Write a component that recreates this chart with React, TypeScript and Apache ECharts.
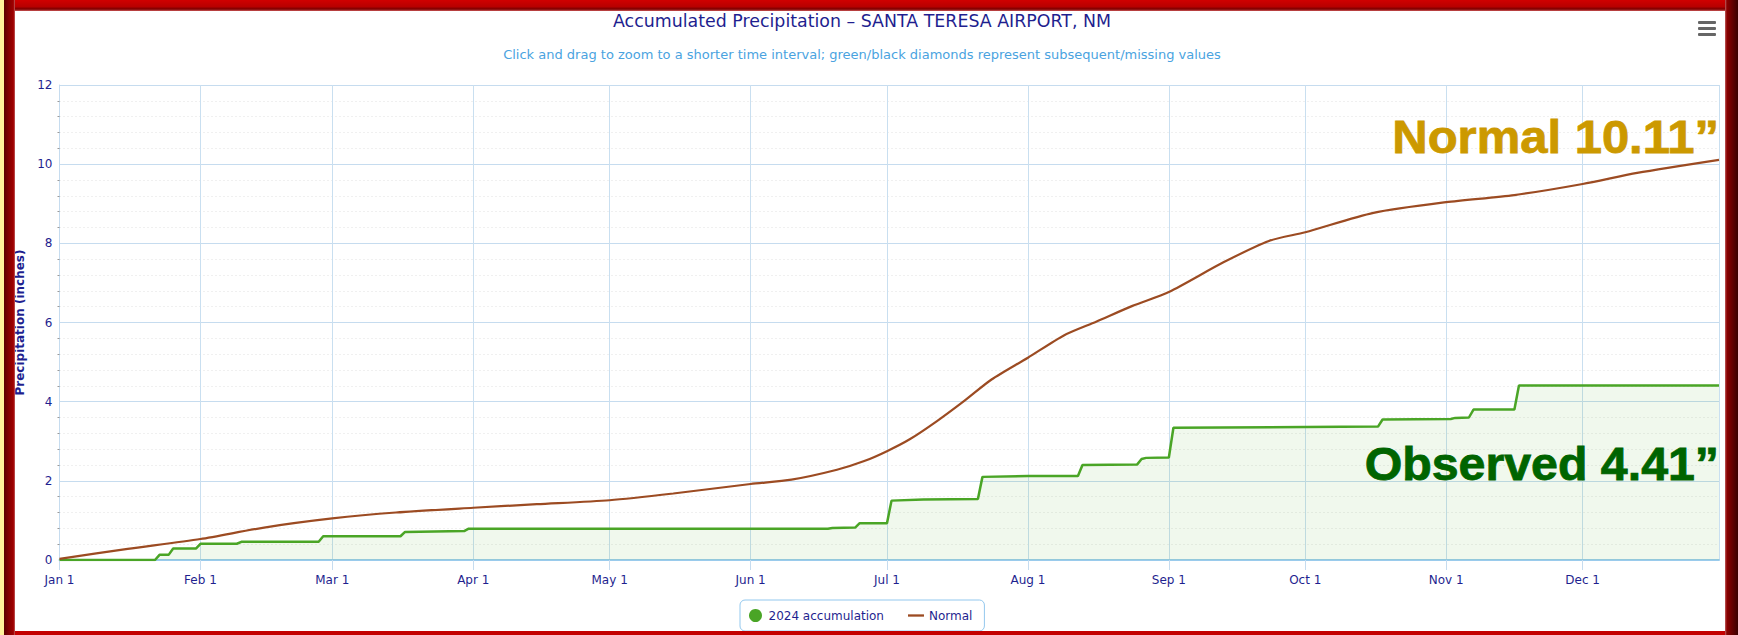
import React, { useEffect, useRef } from 'react';
import * as echarts from 'echarts';

const titleText = 'Accumulated Precipitation – SANTA TERESA AIRPORT, NM';
const subtitleText =
  'Click and drag to zoom to a shorter time interval; green/black diamonds represent subsequent/missing values';
const normalLabel = 'Normal 10.11”';
const observedLabel = 'Observed 4.41”';
const yAxisName = 'Precipitation (inches)';
const monthNames = ['Jan', 'Feb', 'Mar', 'Apr', 'May', 'Jun', 'Jul', 'Aug', 'Sep', 'Oct', 'Nov', 'Dec'];

const xStart = '2024-01-01';
const xEnd = '2024-12-31';

const observedDates = [
  '2024-01-01', '2024-01-22', '2024-01-23', '2024-01-25', '2024-01-26', '2024-01-31', '2024-02-01',
  '2024-02-09', '2024-02-10', '2024-02-27', '2024-02-28', '2024-03-16', '2024-03-17', '2024-03-30',
  '2024-03-31', '2024-06-18', '2024-06-19', '2024-06-24', '2024-06-25', '2024-07-01', '2024-07-02',
  '2024-07-09', '2024-07-21', '2024-07-22', '2024-08-01', '2024-08-12', '2024-08-13', '2024-08-25',
  '2024-08-26', '2024-08-27', '2024-09-01', '2024-09-02', '2024-10-01', '2024-10-17', '2024-10-18',
  '2024-11-02', '2024-11-03', '2024-11-06', '2024-11-07', '2024-11-16', '2024-11-17', '2024-12-31',
];
const observedValues = [
  0, 0, 0.13, 0.13, 0.29, 0.29, 0.41,
  0.41, 0.46, 0.46, 0.6, 0.6, 0.71, 0.73,
  0.79, 0.79, 0.81, 0.82, 0.93, 0.93, 1.5,
  1.53, 1.54, 2.1, 2.12, 2.12, 2.4, 2.41,
  2.55, 2.58, 2.59, 3.34, 3.36, 3.37, 3.55,
  3.56, 3.59, 3.6, 3.8, 3.8, 4.41, 4.41,
];

const normalDates = [
  '2024-01-01', '2024-01-16', '2024-02-01', '2024-02-15', '2024-03-01', '2024-03-15', '2024-04-01',
  '2024-04-15', '2024-05-01', '2024-05-15', '2024-06-01', '2024-06-10', '2024-06-20', '2024-06-26',
  '2024-07-01', '2024-07-06', '2024-07-12', '2024-07-18', '2024-07-24', '2024-08-01', '2024-08-09',
  '2024-08-16', '2024-08-24', '2024-09-01', '2024-09-13', '2024-09-23', '2024-10-01', '2024-10-16',
  '2024-11-01', '2024-11-16', '2024-12-01', '2024-12-13', '2024-12-31',
];
const normalValues = [
  0.03, 0.28, 0.53, 0.82, 1.05, 1.2, 1.32,
  1.41, 1.51, 1.68, 1.92, 2.03, 2.28, 2.5,
  2.75, 3.05, 3.51, 4.02, 4.56, 5.11, 5.68,
  6.02, 6.42, 6.77, 7.52, 8.06, 8.28, 8.77,
  9.04, 9.22, 9.5, 9.78, 10.11,
];

const DAY = 86400000;
function toTime(s: string): number {
  const [y, m, d] = s.split('-').map(Number);
  return new Date(y, m - 1, d).getTime();
}

export default function App() {
  const ref = useRef<HTMLDivElement>(null);

  useEffect(() => {
    if (!ref.current) return;
    const chart = echarts.init(ref.current, null, { renderer: 'svg' });
    const navy = '#1f1f8f';
    const gridBlue = '#c6dcef';

    chart.setOption({
      animation: false,
      backgroundColor: '#ffffff',
      textStyle: { fontFamily: 'DejaVu Sans' },
      title: [
        {
          text: titleText,
          left: 862,
          top: 12,
          textAlign: 'center',
          padding: 0,
          textStyle: { color: navy, fontSize: 17.4, fontWeight: 'normal', fontFamily: 'DejaVu Sans' },
        },
        {
          text: subtitleText,
          left: 862,
          top: 48,
          textAlign: 'center',
          padding: 0,
          textStyle: { color: '#4aa3df', fontSize: 13, fontWeight: 'normal', fontFamily: 'DejaVu Sans' },
        },
      ],
      grid: { left: 59.5, right: 19, top: 85, bottom: 75 },
      legend: {
        left: 740,
        top: 600,
        orient: 'horizontal',
        padding: [9, 12, 9, 9],
        itemGap: 24,
        itemWidth: 16,
        itemHeight: 13,
        borderColor: '#93c8ee',
        borderWidth: 1,
        borderRadius: 5,
        backgroundColor: '#ffffff',
        selectedMode: false,
        textStyle: { color: navy, fontSize: 12, fontFamily: 'DejaVu Sans' },
        data: [
          { name: '2024 accumulation', icon: 'circle' },
          { name: 'Normal', icon: 'path://M0,0M18,13M0,5.2H18V7.8H0Z' },
        ],
      },
      xAxis: {
        type: 'time',
        min: toTime(xStart),
        max: toTime(xEnd),
        splitNumber: 12,
        minInterval: 28 * DAY,
        maxInterval: 31 * DAY,
        axisLine: { show: true, onZero: false, lineStyle: { color: '#9acbec', width: 2 } },
        axisTick: { show: true, length: 10, lineStyle: { color: gridBlue } },
        axisLabel: {
          color: navy,
          fontSize: 12,
          margin: 14,
          fontFamily: 'DejaVu Sans',
          formatter: (v: number) => {
            const d = new Date(v);
            return monthNames[d.getMonth()] + ' ' + d.getDate();
          },
        },
        splitLine: { show: true, lineStyle: { color: '#c9dff0', width: 1 } },
      },
      yAxis: {
        type: 'value',
        min: 0,
        max: 12,
        interval: 2,
        name: yAxisName,
        nameLocation: 'middle',
        nameGap: 32,
        nameRotate: 90,
        nameTextStyle: { color: navy, fontWeight: 'bold', fontSize: 12, fontFamily: 'DejaVu Sans' },
        axisLine: { show: true, lineStyle: { color: gridBlue } },
        axisTick: { show: false },
        minorTick: { show: true, splitNumber: 5, length: 2, lineStyle: { color: '#999999' } },
        minorSplitLine: { show: true, lineStyle: { color: '#e0e0e0', type: [1, 3] } },
        axisLabel: { color: navy, fontSize: 12, margin: 7, fontFamily: 'DejaVu Sans' },
        splitLine: { show: true, lineStyle: { color: gridBlue } },
      },
      series: [
        {
          name: '2024 accumulation',
          type: 'line',
          data: observedDates.map((d, i) => [toTime(d), observedValues[i]]),
          showSymbol: false,
          symbol: 'circle',
          lineStyle: { color: '#4aa526', width: 2.5 },
          itemStyle: { color: '#4aa526' },
          areaStyle: { color: 'rgba(74,165,38,0.12)' },
          z: 3,
        },
        {
          name: 'Normal',
          type: 'line',
          data: normalDates.map((d, i) => [toTime(d), normalValues[i]]),
          symbol: 'none',
          smooth: 0.25,
          lineStyle: { color: '#9c4b22', width: 2.2 },
          itemStyle: { color: '#9c4b22' },
          z: 4,
        },
      ],
      graphic: {
        elements: [
          {
            type: 'text',
            x: 1719,
            y: 137,
            scaleX: 1.065,
            z: 50,
            style: {
              text: normalLabel,
              fill: '#cc9900',
              stroke: '#cc9900',
              lineWidth: 0.8,
              fontSize: 46,
              fontWeight: 'bold',
              fontFamily: 'Liberation Sans',
              align: 'right',
              verticalAlign: 'middle',
            },
          },
          {
            type: 'text',
            x: 1719,
            y: 464,
            scaleX: 1.05,
            z: 50,
            style: {
              text: observedLabel,
              fill: '#006400',
              stroke: '#006400',
              lineWidth: 0.8,
              fontSize: 46,
              fontWeight: 'bold',
              fontFamily: 'Liberation Sans',
              align: 'right',
              verticalAlign: 'middle',
              shadowColor: 'rgba(255,255,255,0.95)',
              shadowBlur: 3,
              shadowOffsetX: 2,
              shadowOffsetY: 2,
            },
          },
          { type: 'rect', z: 60, shape: { x: 1698, y: 21, width: 18, height: 3, r: 1 }, style: { fill: '#666666' } },
          { type: 'rect', z: 60, shape: { x: 1698, y: 27, width: 18, height: 3, r: 1 }, style: { fill: '#666666' } },
          { type: 'rect', z: 60, shape: { x: 1698, y: 33, width: 18, height: 3, r: 1 }, style: { fill: '#666666' } },
          {
            type: 'rect',
            z: 100,
            shape: { x: 0, y: 0, width: 1738, height: 11 },
            style: {
              fill: new echarts.graphic.LinearGradient(0, 0, 0, 1, [
                { offset: 0, color: '#d00000' },
                { offset: 0.6, color: '#b80000' },
                { offset: 0.82, color: '#7a0000' },
                { offset: 1, color: '#cc5555' },
              ]),
            },
          },
          {
            type: 'rect',
            z: 101,
            shape: { x: 4, y: 0, width: 11, height: 635 },
            style: {
              fill: new echarts.graphic.LinearGradient(0, 0, 1, 0, [
                { offset: 0, color: '#5a0000' },
                { offset: 0.5, color: '#880000' },
                { offset: 0.85, color: '#a00000' },
                { offset: 1, color: '#c06060' },
              ]),
            },
          },
          { type: 'rect', z: 101, shape: { x: 0, y: 0, width: 4, height: 635 }, style: { fill: '#fff29a' } },
          {
            type: 'rect',
            z: 101,
            shape: { x: 1725, y: 0, width: 13, height: 635 },
            style: {
              fill: new echarts.graphic.LinearGradient(0, 0, 1, 0, [
                { offset: 0, color: '#c06060' },
                { offset: 0.15, color: '#8b0000' },
                { offset: 1, color: '#3a0000' },
              ]),
            },
          },
          { type: 'rect', z: 100, shape: { x: 0, y: 631, width: 1738, height: 4 }, style: { fill: '#c40000' } },
        ],
      },
    });

    return () => chart.dispose();
  }, []);

  return (
    <div
      ref={ref}
      style={{ position: 'absolute', left: 0, top: 0, width: 1738, height: 635, background: '#fff' }}
    />
  );
}
